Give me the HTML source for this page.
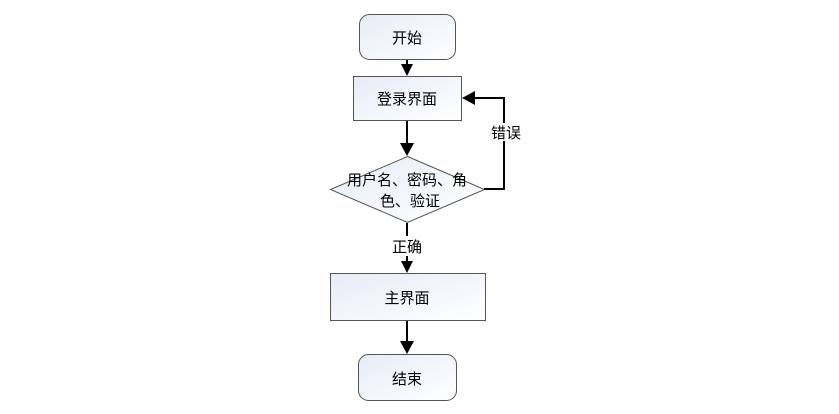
<!DOCTYPE html>
<html><head><meta charset="utf-8"><style>
html,body{margin:0;padding:0;background:#fff;}
text{font-family:"Liberation Sans","Noto Sans CJK SC",sans-serif;font-size:15px;fill:#000;}
</style></head><body>
<svg width="839" height="409" viewBox="0 0 839 409" xmlns="http://www.w3.org/2000/svg">
<defs>
<linearGradient id="g" x1="0" y1="0" x2="1" y2="1">
<stop offset="0" stop-color="#e6ecf7"/><stop offset="1" stop-color="#ffffff"/>
</linearGradient>
</defs>
<g stroke="#555" stroke-width="1" fill="url(#g)">
<rect x="359.5" y="14.5" width="96" height="45" rx="10"/>
<rect x="353.5" y="76.5" width="108" height="44"/>
<polygon points="407.5,156.5 484.5,189.5 407.5,222.5 330.5,189.5"/>
<rect x="330.5" y="273.5" width="155" height="47"/>
<rect x="358.5" y="354.5" width="98" height="46" rx="10"/>
</g>
<g stroke="#000" stroke-width="2" fill="none">
<line x1="407" y1="60" x2="407" y2="66"/>
<line x1="407" y1="121" x2="407" y2="144"/>
<line x1="407" y1="223" x2="407" y2="236"/>
<line x1="407" y1="256" x2="407" y2="262"/>
<line x1="407" y1="321" x2="407" y2="342"/>
<polyline points="484,189 504,189 504,98 474,98"/>
</g>
<g fill="#000">
<polygon points="401,64 413,64 407,76"/>
<polygon points="400,143 414,143 407,156"/>
<polygon points="401,261 413,261 407,273"/>
<polygon points="400,341 414,341 407,354"/>
<polygon points="475,91 475,105 462,98"/>
</g>
<rect x="489" y="123" width="34" height="18" fill="#fff"/>
<text x="407" y="43" text-anchor="middle">开始</text>
<text x="407" y="104" text-anchor="middle">登录界面</text>
<text x="407" y="185" text-anchor="middle">用户名、密码、角</text>
<text x="410" y="206" text-anchor="middle">色、验证</text>
<text x="407" y="252" text-anchor="middle">正确</text>
<text x="407" y="303" text-anchor="middle">主界面</text>
<text x="407" y="384" text-anchor="middle">结束</text>
<text x="506" y="138" text-anchor="middle">错误</text>
</svg>
</body></html>
